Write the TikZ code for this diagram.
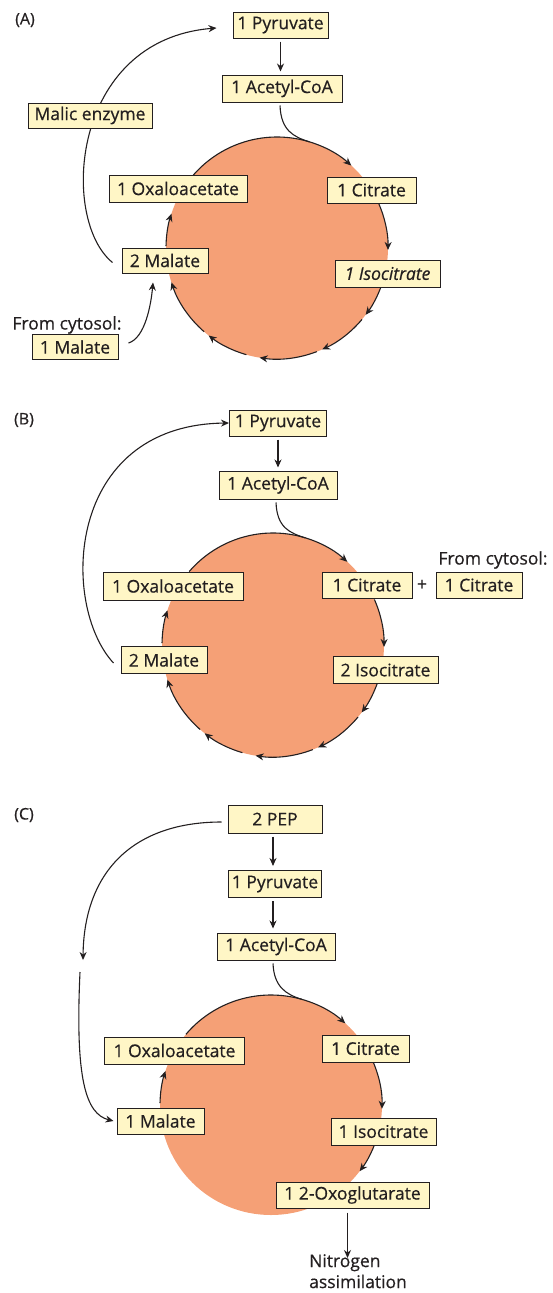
\documentclass[tikz,border=0pt]{standalone}
\usepackage{fontspec}
\setmainfont{Open Sans}[FakeBold=0.5]
\usetikzlibrary{arrows.meta,calc}
\definecolor{boxfill}{RGB}{255,246,198}
\definecolor{cyc}{RGB}{245,160,118}
\definecolor{ink}{RGB}{35,31,32}
\tikzset{
 box/.style={draw=ink, line width=1pt, fill=boxfill, font=\fontsize{17.5}{19}\selectfont, text=ink, inner sep=0pt, minimum height=26pt, anchor=center},
 arr/.style={draw=ink, line width=1.1pt, -{Stealth[length=8pt,width=7pt]}},
 ln/.style={draw=ink, line width=1.1pt},
 lab/.style={font=\fontsize{17.5}{21}\selectfont, text=ink, inner sep=1pt},
 plab/.style={font=\fontsize{16}{18}\selectfont, text=ink, inner sep=0pt},
 cycfill/.style={fill=cyc, draw=none},
}
\newcommand{\cycarc}[5]{\draw[arr] ([shift={(#4:#2pt and #3pt)}]#1) arc[start angle=#4, end angle=#5, x radius=#2pt, y radius=#3pt];}
\begin{document}
\begin{tikzpicture}[x=1pt,y=1pt]
\useasboundingbox (0,0) rectangle (552,-1293);

% ================= Panel A =================
\coordinate (cA) at (277,-248);
\fill[cycfill] (cA) ellipse[x radius=111pt, y radius=111pt];
\cycarc{cA}{111}{111}{139}{48}
\cycarc{cA}{111}{111}{24}{-1}
\cycarc{cA}{111}{111}{-19}{-37}
\cycarc{cA}{111}{111}{-40}{-66}
\cycarc{cA}{111}{111}{-69}{-99}
\cycarc{cA}{111}{111}{-106}{-128}
\cycarc{cA}{111}{111}{-131}{-162}
\cycarc{cA}{111}{111}{179}{162}

\node[plab] (labA) at (25,-20) {(A)};
\node[box, minimum width=95pt] (pyrA) at (280.5,-25) {1 Pyruvate};
\node[box, minimum width=120pt, minimum height=27pt] (acA) at (282,-88.5) {1 Acetyl-CoA};
\coordinate (tA) at ($(cA)+(73:111pt and 111pt)$);
\draw[ln] ([xshift=-2pt,yshift=-3pt]acA.south) .. controls ([xshift=-1pt,yshift=-28pt]acA.south) and ([xshift=-16pt,yshift=5pt]tA) .. (tA);
\draw[arr, shorten <=3pt, shorten >=3pt] (pyrA.south) -- (pyrA.south |- acA.north);
\node[box, minimum width=86pt, minimum height=25pt] (mal2A) at (165,-260.5) {2 Malate};
\node[box, minimum width=86pt, minimum height=25pt] (mal1A) at (75,-347) {1 Malate};
\draw[arr] ([xshift=-9pt,yshift=-2pt]mal2A.west) .. controls (60,-220) and (70,-40) .. ([xshift=-16pt,yshift=-3pt]pyrA.west);
\draw[arr] ([xshift=10pt,yshift=4pt]mal1A.east) .. controls (145,-338) and (151,-305) .. ([xshift=-12pt,yshift=-9pt]mal2A.south);
\node[box, minimum width=124pt, minimum height=25pt] (malicA) at (90,-115.5) {Malic enzyme};
\node[box, minimum width=138pt, minimum height=27pt] (oxaA) at (178,-188.5) {1 Oxaloacetate};
\node[box, minimum width=89pt] (citA) at (371.5,-190) {1 Citrate};
\node[box, minimum width=105pt, minimum height=27pt, font=\fontsize{17.5}{19}\selectfont\itshape] (isoA) at (387.5,-273.5) {1 Isocitrate};
\node[lab] (fromA) at (67,-325) {From cytosol:};

% ================= Panel B =================
\coordinate (cB) at (273,-645);
\fill[cycfill] (cB) ellipse[x radius=111pt, y radius=112pt];
\cycarc{cB}{111}{112}{139}{48}
\cycarc{cB}{111}{112}{24}{-1}
\cycarc{cB}{111}{112}{-19}{-37}
\cycarc{cB}{111}{112}{-40}{-66}
\cycarc{cB}{111}{112}{-69}{-99}
\cycarc{cB}{111}{112}{-106}{-128}
\cycarc{cB}{111}{112}{-131}{-162}
\cycarc{cB}{111}{112}{179}{162}

\node[plab] (labB) at (24,-420) {(B)};
\node[box, minimum width=97pt] (pyrB) at (278,-423) {1 Pyruvate};
\node[box, minimum width=118pt, minimum height=28pt] (acB) at (278,-485) {1 Acetyl-CoA};
\coordinate (tB) at ($(cB)+(73:111pt and 112pt)$);
\draw[ln] ([xshift=-2pt,yshift=-3pt]acB.south) .. controls ([xshift=-1pt,yshift=-28pt]acB.south) and ([xshift=-16pt,yshift=5pt]tB) .. (tB);
\draw[arr, shorten <=3pt, shorten >=3pt] (pyrB.south) -- (acB.north);
\node[box, minimum width=86pt, minimum height=27pt] (mal2B) at (164,-660) {2 Malate};
\draw[arr] ([xshift=-7pt,yshift=-3pt]mal2B.west) .. controls (60,-605) and (65,-425) .. (pyrB.west);
\node[box, minimum width=140pt, minimum height=28pt] (oxaB) at (173,-586) {1 Oxaloacetate};
\node[box, minimum width=90pt] (citB) at (367,-585) {1 Citrate};
\node[lab] (plusB) at (422,-585) {+};
\node[box, minimum width=86pt] (cit2B) at (479,-585) {1 Citrate};
\node[lab] (fromB) at (493,-560) {From cytosol:};
\node[box, minimum width=105pt, minimum height=27pt] (isoB) at (385.5,-670) {2 Isocitrate};

% ================= Panel C =================
\coordinate (cC) at (271,-1105);
\fill[cycfill] (cC) ellipse[x radius=111pt, y radius=110pt];
\cycarc{cC}{111}{110}{140}{48}
\cycarc{cC}{111}{110}{25}{-2}
\cycarc{cC}{111}{110}{-19}{-37}
\cycarc{cC}{111}{110}{179}{162}

\node[plab] (labC) at (24,-815) {(C)};
\node[box, minimum width=94pt, minimum height=28pt] (pepC) at (275,-819) {2 PEP};
\node[box, minimum width=93pt, minimum height=27pt] (pyrC) at (275,-884) {1 Pyruvate};
\node[box, minimum width=118pt, minimum height=27pt] (acC) at (276,-946.5) {1 Acetyl-CoA};
\draw[arr, shorten <=3pt, shorten >=4pt] ([xshift=-2pt]pepC.south) -- ([xshift=-2pt]pepC.south |- pyrC.north);
\draw[arr, shorten <=3pt, shorten >=4pt] ([xshift=-2pt]pyrC.south) -- ([xshift=-2pt]pyrC.south |- acC.north);
\coordinate (tC) at ($(cC)+(74:111pt and 110pt)$);
\draw[ln] ([xshift=-3pt,yshift=-3pt]acC.south) .. controls ([xshift=-2pt,yshift=-26pt]acC.south) and ([xshift=-16pt,yshift=5pt]tC) .. (tC);
\node[box, minimum width=87pt, minimum height=26pt] (malC) at (160.5,-1121) {1 Malate};
\coordinate (gapC1) at (83,-960);
\coordinate (gapC2) at (80,-972);
\draw[arr] ([xshift=-6pt,yshift=-3pt]pepC.west) .. controls (135,-822) and (84,-870) .. (gapC1);
\draw[arr] (gapC2) .. controls (75,-1080) and (86,-1114) .. ([xshift=-3pt]malC.west);
\node[box, minimum width=140pt, minimum height=27pt] (oxaC) at (174.5,-1050.5) {1 Oxaloacetate};
\node[box, minimum width=87pt, minimum height=27pt] (citC) at (365.5,-1048.5) {1 Citrate};
\node[box, minimum width=105pt, minimum height=27pt] (isoC) at (383.5,-1131.5) {1 Isocitrate};
\node[box, minimum width=153pt, minimum height=26pt] (oxoC) at (352.5,-1195) {1 2-Oxoglutarate};
\node[lab, align=left, anchor=north west, inner sep=0pt] (nitC) at (309,-1254) {Nitrogen\\assimilation};
\draw[arr] ([xshift=-5pt,yshift=-4pt]oxoC.south) -- ([xshift=-5pt,yshift=-4pt]oxoC.south |- nitC.north);
\end{tikzpicture}
\end{document}
